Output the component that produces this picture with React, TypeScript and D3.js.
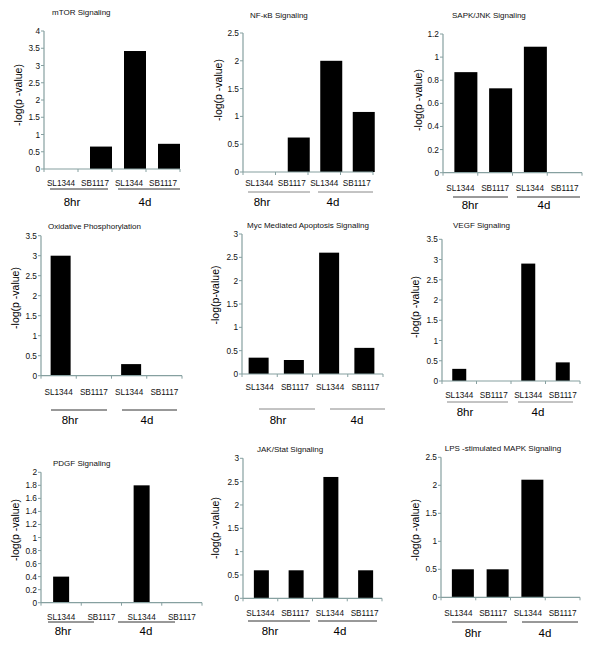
import React from "react";
import * as d3 from "d3";

const categories = ["SL1344", "SB1117", "SL1344", "SB1117"];
const groupLabels = ["8hr", "4d"];
const titles = [
  "mTOR Signaling",
  "NF-κB Signaling",
  "SAPK/JNK Signaling",
  "Oxidative Phosphorylation",
  "Myc Mediated  Apoptosis  Signaling",
  "VEGF Signaling",
  "PDGF Signaling",
  "JAK/Stat Signaling",
  "LPS -stimulated MAPK Signaling",
];
const yLabels = [
  "-log(p -value)", "-log(p -value)", "-log(p -value)",
  "-log(p -value)", "-log(p-value)", "-log(p -value)",
  "-log(p -value)", "-log(p -value)", "-log(p -value)",
];
const mtorValues = [0, 0.65, 3.42, 0.73];
const nfkbValues = [0, 0.62, 2.0, 1.08];
const sapkValues = [0.87, 0.73, 1.09, 0];
const oxphosValues = [3.0, 0, 0.29, 0];
const mycValues = [0.35, 0.3, 2.6, 0.56];
const vegfValues = [0.3, 0, 2.9, 0.46];
const pdgfValues = [0.4, 0, 1.8, 0];
const jakValues = [0.6, 0.6, 2.6, 0.6];
const lpsValues = [0.5, 0.5, 2.1, 0];
const seriesList = [mtorValues, nfkbValues, sapkValues, oxphosValues, mycValues, vegfValues, pdgfValues, jakValues, lpsValues];
const yMaxes = [4, 2.5, 1.2, 3.5, 3, 3.5, 2, 3, 2.5];
const ySteps = [0.5, 0.5, 0.2, 0.5, 0.5, 0.5, 0.2, 0.5, 0.5];

// layout (positions in page pixels)
type Layout = {
  ax: number; xEnd: number; yTop: number; y0: number;
  tx: number; ty: number; tAnchor: string;
  ylx: number; yly: number;
  catY: number; lineY: number; lines: number[][]; lineColor: string;
  grpY: number; grpX: number[];
  barW: number; shift: number;
};
const layouts: Layout[] = [
  { ax: 44, xEnd: 180, yTop: 31, y0: 169, tx: 52, ty: 15, tAnchor: "start", ylx: 18, yly: 95, catY: 186, lineY: 189, lines: [[50, 108], [118, 180]], lineColor: "#333", grpY: 206, grpX: [72, 145], barW: 22, shift: 6 },
  { ax: 243, xEnd: 373, yTop: 33, y0: 172, tx: 250, ty: 18, tAnchor: "start", ylx: 218, yly: 90, catY: 186, lineY: 192, lines: [[248, 310], [318, 373]], lineColor: "#888", grpY: 206, grpX: [262, 333], barW: 22, shift: 7 },
  { ax: 443, xEnd: 582, yTop: 34, y0: 172.7, tx: 452, ty: 18, tAnchor: "start", ylx: 418, yly: 100, catY: 191, lineY: 197, lines: [[453, 508], [517, 580]], lineColor: "#333", grpY: 209, grpX: [470, 544], barW: 23, shift: 5.5 },
  { ax: 41, xEnd: 182, yTop: 235.7, y0: 375.7, tx: 48, ty: 229, tAnchor: "start", ylx: 15, yly: 298, catY: 394.5, lineY: 410, lines: [[51, 107], [122, 177]], lineColor: "#333", grpY: 424, grpX: [70, 147], barW: 20, shift: 2 },
  { ax: 242, xEnd: 383, yTop: 234, y0: 374, tx: 308, ty: 228, tAnchor: "middle", ylx: 215, yly: 295, catY: 390, lineY: 409, lines: [[259, 315], [330, 385]], lineColor: "#888", grpY: 424, grpX: [278, 357], barW: 20, shift: -1 },
  { ax: 442, xEnd: 580, yTop: 239.3, y0: 381, tx: 453, ty: 228, tAnchor: "start", ylx: 415, yly: 307, catY: 398, lineY: 402, lines: [[447, 508], [518, 573]], lineColor: "#888", grpY: 416, grpX: [465, 538], barW: 14, shift: 0 },
  { ax: 41, xEnd: 202, yTop: 472.3, y0: 602.7, tx: 53, ty: 466, tAnchor: "start", ylx: 15, yly: 530, catY: 620, lineY: 622, lines: [[48, 94], [118, 175]], lineColor: "#333", grpY: 635, grpX: [63, 146], barW: 16, shift: 0 },
  { ax: 243, xEnd: 382, yTop: 458.3, y0: 598.3, tx: 257, ty: 452, tAnchor: "start", ylx: 215, yly: 528, catY: 615.5, lineY: 621, lines: [[248, 310], [318, 377]], lineColor: "#333", grpY: 635, grpX: [270, 340], barW: 15, shift: 1 },
  { ax: 441, xEnd: 580, yTop: 457.3, y0: 597.3, tx: 503, ty: 451, tAnchor: "middle", ylx: 415, yly: 530, catY: 615.5, lineY: 622, lines: [[452, 507], [522, 578]], lineColor: "#333", grpY: 637, grpX: [473, 545], barW: 22, shift: 4.5 },
];

const AXIS = "#86a0a0";
const FONT = "'Liberation Sans', Arial, sans-serif";

function Panel({ i }: { i: number }) {
  const L = layouts[i];
  const values = seriesList[i];
  const yMax = yMaxes[i];
  const step = ySteps[i];
  const y = d3.scaleLinear().domain([0, yMax]).range([L.y0, L.yTop]);
  const x = d3.scaleBand<number>().domain(d3.range(categories.length)).range([L.ax, L.xEnd]);
  const yTicks = d3.range(0, yMax + step / 2, step).map((v) => +v.toFixed(1));
  const xTicks = d3.range(categories.length + 1).map((k) => L.ax + k * x.step());
  return (
    <g fontFamily={FONT}>
      <text x={L.tx} y={L.ty} fontSize={8} textAnchor={L.tAnchor} fill="#111">{titles[i]}</text>
      {values.map((v, k) => (
        v > 0 ? (
          <rect key={k} x={(x(k) as number) + x.bandwidth() / 2 + L.shift - L.barW / 2} y={y(v)} width={L.barW} height={L.y0 - y(v)} fill="#000" />
        ) : null
      ))}
      <line x1={L.ax} x2={L.ax} y1={L.yTop} y2={L.y0} stroke={AXIS} strokeWidth={1.2} />
      <line x1={L.ax} x2={L.xEnd} y1={L.y0} y2={L.y0} stroke={AXIS} strokeWidth={1.2} />
      {yTicks.map((t) => (
        <g key={t}>
          <line x1={L.ax - 3} x2={L.ax} y1={y(t)} y2={y(t)} stroke={AXIS} strokeWidth={1} />
          <text x={L.ax - 4} y={y(t) + 3} fontSize={8.3} textAnchor="end" fill="#111">{String(t)}</text>
        </g>
      ))}
      {xTicks.map((xt, k) => (
        <line key={k} x1={xt} x2={xt} y1={L.y0} y2={L.y0 + 3} stroke={AXIS} strokeWidth={1} />
      ))}
      <text transform={`translate(${L.ylx},${L.yly}) rotate(-90)`} fontSize={10.5} textAnchor="middle" dominantBaseline="central" fill="#000">{yLabels[i]}</text>
      {categories.map((c, k) => (
        <text key={k} x={(x(k) as number) + x.bandwidth() / 2} y={L.catY} fontSize={8.2} textAnchor="middle" fill="#111">{c}</text>
      ))}
      {L.lines.map((ln, k) => (
        <line key={k} x1={ln[0]} x2={ln[1]} y1={L.lineY} y2={L.lineY} stroke={L.lineColor} strokeWidth={1} />
      ))}
      {groupLabels.map((g, k) => (
        <text key={k} x={L.grpX[k]} y={L.grpY} fontSize={11.5} textAnchor="middle" fill="#000">{g}</text>
      ))}
    </g>
  );
}

export default function App() {
  return (
    <svg width={600} height={648} style={{ position: "absolute", left: 0, top: 0, background: "#fff" }}>
      <rect width={600} height={648} fill="#fff" />
      {layouts.map((_, i) => <Panel key={i} i={i} />)}
    </svg>
  );
}
